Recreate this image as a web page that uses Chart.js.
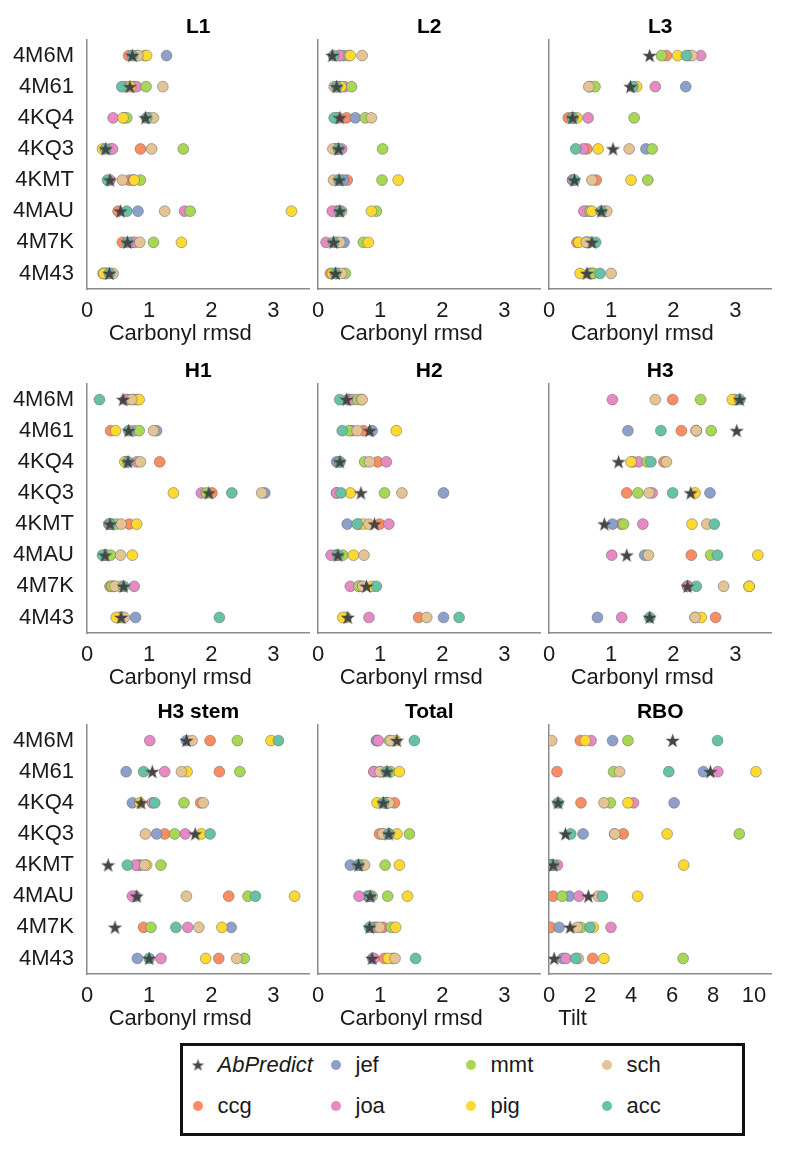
<!DOCTYPE html>
<html>
<head>
<meta charset="utf-8">
<script src="https://cdn.jsdelivr.net/npm/chart.js@4.4.1/dist/chart.umd.min.js"></script>
<style>
  body { margin: 0; background: #fff; width: 800px; height: 1152px; position: relative;
         font-family: "Liberation Sans", Arial, sans-serif; }
  canvas.panel { position: absolute; }
  #legend { position: absolute; left: 180px; top: 1043px; width: 565px; height: 93px;
            border: 3.5px solid #111; box-sizing: border-box; }
  #legend .mark { position: absolute; }
  #legend .txt { position: absolute; font-size: 22px; line-height: 26px; color: #1a1a1a; }
</style>
</head>
<body>
<div id="legend"></div>
<script>
// categories (structures) top to bottom
const categories = ['4M6M', '4M61', '4KQ4', '4KQ3', '4KMT', '4MAU', '4M7K', '4M43'];

// values per panel, one array per method (same order as categories)
const L1 = {
  AbPredict: [0.73, 0.69, 0.94, 0.30, 0.37, 0.54, 0.65, 0.36],
  ccg: [0.67, 0.62, 1.00, 0.86, 0.68, 0.50, 0.57, 0.26],
  jef: [1.28, 0.75, 0.60, 0.38, 0.75, 0.82, 0.72, 0.29],
  joa: [0.80, 0.80, 0.42, 0.41, 0.37, 1.57, 0.77, 0.31],
  mmt: [0.93, 0.95, 0.64, 1.55, 0.86, 1.66, 1.07, 0.33],
  pig: [0.96, 0.70, 0.58, 0.25, 0.76, 3.29, 1.52, 0.27],
  sch: [0.82, 1.22, 1.07, 1.04, 0.57, 1.25, 0.85, 0.42],
  acc: [0.73, 0.56, 0.96, 0.30, 0.33, 0.64, 0.65, 0.36]
};
const L2 = {
  AbPredict: [0.23, 0.30, 0.35, 0.33, 0.34, 0.35, 0.25, 0.28],
  ccg: [0.35, 0.30, 0.46, 0.30, 0.47, 0.30, 0.30, 0.20],
  jef: [0.42, 0.35, 0.60, 0.30, 0.41, 0.33, 0.42, 0.30],
  joa: [0.35, 0.43, 0.33, 0.38, 0.33, 0.23, 0.13, 0.30],
  mmt: [0.50, 0.54, 0.76, 1.04, 1.03, 0.94, 0.73, 0.44],
  pig: [0.52, 0.37, 0.30, 0.30, 1.29, 0.86, 0.81, 0.23],
  sch: [0.71, 0.26, 0.86, 0.24, 0.25, 0.38, 0.35, 0.38],
  acc: [0.25, 0.30, 0.26, 0.33, 0.34, 0.35, 0.25, 0.28]
};
const L3 = {
  AbPredict: [1.62, 1.31, 0.38, 1.03, 0.41, 0.84, 0.69, 0.61],
  ccg: [1.89, 0.66, 0.31, 0.61, 0.76, 0.90, 0.45, 0.65],
  jef: [2.25, 2.20, 0.38, 1.56, 0.38, 0.60, 0.60, 0.68],
  joa: [2.44, 1.71, 0.63, 0.55, 0.38, 0.56, 0.62, 0.71],
  mmt: [1.81, 0.74, 1.37, 1.66, 1.59, 0.66, 0.65, 0.70],
  pig: [2.07, 1.41, 0.45, 0.79, 1.32, 0.69, 0.48, 0.50],
  sch: [2.30, 0.64, 0.38, 1.29, 0.69, 0.93, 0.60, 1.00],
  acc: [2.21, 1.35, 0.38, 0.43, 0.41, 0.84, 0.75, 0.82]
};
const H1 = {
  AbPredict: [0.58, 0.67, 0.66, 1.96, 0.37, 0.29, 0.59, 0.55],
  ccg: [0.62, 0.38, 1.17, 2.01, 0.68, 0.30, 0.37, 0.52],
  jef: [0.75, 1.12, 0.62, 2.86, 0.40, 0.30, 0.42, 0.78],
  joa: [0.66, 0.76, 0.80, 1.84, 0.35, 0.30, 0.76, 0.58],
  mmt: [0.80, 0.84, 0.64, 1.92, 0.47, 0.38, 0.40, 0.55],
  pig: [0.84, 0.46, 0.61, 1.39, 0.80, 0.73, 0.54, 0.47],
  sch: [0.72, 1.07, 0.86, 2.81, 0.55, 0.54, 0.45, 0.60],
  acc: [0.20, 0.67, 0.66, 2.33, 0.37, 0.25, 0.59, 2.13]
};
const H2 = {
  AbPredict: [0.46, 0.83, 0.35, 0.69, 0.91, 0.32, 0.78, 0.48],
  ccg: [0.48, 0.73, 0.96, 0.30, 0.99, 0.30, 0.70, 1.62],
  jef: [0.50, 0.87, 0.30, 2.02, 0.47, 0.30, 0.66, 2.02],
  joa: [0.56, 0.55, 1.10, 0.30, 1.14, 0.21, 0.52, 0.82],
  mmt: [0.64, 0.50, 0.75, 1.07, 0.66, 0.40, 0.66, 0.45],
  pig: [0.70, 1.26, 0.35, 0.52, 0.73, 0.57, 0.87, 0.40],
  sch: [0.71, 0.63, 0.83, 1.35, 0.82, 0.74, 0.72, 1.75],
  acc: [0.35, 0.39, 0.35, 0.37, 0.63, 0.32, 0.94, 2.27]
};
const H3 = {
  AbPredict: [3.07, 3.02, 1.12, 2.28, 0.89, 1.25, 2.23, 1.62],
  ccg: [1.99, 2.13, 1.85, 1.25, 1.16, 2.29, 2.23, 2.68],
  jef: [3.00, 1.27, 1.35, 2.59, 1.02, 1.54, 2.23, 0.78],
  joa: [1.02, 2.37, 1.44, 1.66, 1.51, 1.01, 2.23, 1.17],
  mmt: [2.44, 2.61, 1.58, 1.43, 1.20, 2.60, 3.22, 2.35],
  pig: [2.95, 2.37, 1.32, 2.35, 2.30, 3.36, 3.22, 2.45],
  sch: [1.71, 2.37, 1.89, 1.61, 2.54, 1.60, 2.81, 2.35],
  acc: [3.07, 1.80, 1.64, 1.99, 2.66, 2.71, 2.37, 1.62]
};
const H3stem = {
  AbPredict: [1.60, 1.05, 0.87, 1.74, 0.34, 0.80, 0.45, 1.00],
  ccg: [1.98, 2.13, 1.83, 1.25, 0.82, 2.28, 0.91, 2.12],
  jef: [1.60, 0.63, 0.73, 1.12, 0.87, 0.78, 2.32, 0.81],
  joa: [1.01, 1.25, 1.05, 1.58, 0.78, 0.73, 1.62, 1.19],
  mmt: [2.42, 2.46, 1.56, 1.41, 1.19, 2.59, 1.03, 2.53],
  pig: [2.96, 1.61, 0.85, 1.84, 0.96, 3.34, 2.17, 1.91],
  sch: [1.69, 1.52, 1.87, 0.94, 0.93, 1.60, 1.80, 2.41],
  acc: [3.08, 0.91, 1.09, 1.98, 0.65, 2.71, 1.43, 1.00]
};
const Total = {
  AbPredict: [1.27, 1.11, 1.05, 1.14, 0.65, 0.84, 0.83, 0.87],
  ccg: [0.94, 0.90, 1.23, 0.99, 0.65, 0.80, 1.05, 1.07],
  jef: [0.95, 1.00, 1.10, 1.14, 0.52, 0.80, 0.90, 0.88],
  joa: [0.97, 0.90, 1.10, 1.05, 0.70, 0.66, 0.94, 0.90],
  mmt: [1.15, 1.17, 1.10, 1.47, 1.08, 1.12, 1.18, 1.20],
  pig: [1.25, 1.31, 0.95, 1.27, 1.31, 1.44, 1.25, 1.13],
  sch: [1.17, 1.00, 1.14, 1.04, 0.75, 0.87, 0.99, 1.24],
  acc: [1.55, 1.11, 1.05, 1.14, 0.65, 0.84, 0.83, 1.57]
};
const RBO = {
  AbPredict: [6.03, 7.87, 0.44, 0.80, 0.20, 1.92, 1.03, 0.25],
  ccg: [1.53, 0.39, 1.56, 3.62, 0.05, 0.20, 0.08, 2.13],
  jef: [3.10, 7.53, 6.10, 1.66, 0.10, 0.99, 0.49, 0.67],
  joa: [2.05, 8.23, 4.12, 3.20, 0.41, 1.46, 3.02, 0.83],
  mmt: [3.85, 3.15, 2.99, 9.28, 0.10, 0.64, 1.56, 6.54],
  pig: [1.77, 10.09, 3.85, 5.76, 6.57, 4.32, 2.16, 2.68],
  sch: [0.13, 3.44, 2.68, 3.21, 0.15, 2.39, 1.38, 1.42],
  acc: [8.22, 5.84, 0.44, 1.06, 0.20, 2.60, 2.00, 1.30]
};

// method order (drawing order bottom -> top), star drawn last
const methods = ['ccg', 'jef', 'joa', 'mmt', 'pig', 'sch', 'acc'];
const colors = {
  ccg: '#fc8d62', jef: '#8da0cb', joa: '#e78ac3', mmt: '#a6d854',
  pig: '#ffd92f', sch: '#e5c494', acc: '#66c2a5'
};
const STAR_COLOR = '#454545';
const AXIS_COLOR = '#8a8a8a';
const TEXT_COLOR = '#1a1a1a';
const FONT = '"Liberation Sans", Arial, sans-serif';

// layout (px)
const COL_LEFT = [87, 318, 549];
const COL_RIGHT = [318, 549, 780];
const ROW_TOP = [40, 384, 725];
const PLOT_H = 249, TITLE_H = 26, AXIS_H = 62, PAD_L = 20;

const panels = [
  {title: 'L1', values: L1, row: 0, col: 0},
  {title: 'L2', values: L2, row: 0, col: 1},
  {title: 'L3', values: L3, row: 0, col: 2},
  {title: 'H1', values: H1, row: 1, col: 0},
  {title: 'H2', values: H2, row: 1, col: 1},
  {title: 'H3', values: H3, row: 1, col: 2},
  {title: 'H3 stem', values: H3stem, row: 2, col: 0},
  {title: 'Total', values: Total, row: 2, col: 1},
  {title: 'RBO', values: RBO, row: 2, col: 2, xMax: 10.85, step: 2, xLabel: 'Tilt', labelAt: 1.15},
];

Chart.defaults.font.family = FONT;
Chart.defaults.color = TEXT_COLOR;

// filled five-point star used as marker
function starMarker(r) {
  const c = document.createElement('canvas');
  const s = Math.ceil(2 * r + 2);
  c.width = s; c.height = s;
  const ctx = c.getContext('2d');
  ctx.beginPath();
  for (let i = 0; i < 10; i++) {
    const rad = i % 2 === 0 ? r : r * 0.4;
    const a = -Math.PI / 2 + i * Math.PI / 5;
    const px = s / 2 + rad * Math.cos(a), py = s / 2 + r * 0.08 + rad * Math.sin(a);
    i === 0 ? ctx.moveTo(px, py) : ctx.lineTo(px, py);
  }
  ctx.closePath();
  ctx.fillStyle = STAR_COLOR;
  ctx.fill();
  return c;
}
const star = starMarker(7.5);

// axis label drawn below the x axis, centred on a data value
const xLabelPlugin = {
  id: 'xLabel',
  afterDraw(chart, args, opts) {
    const {ctx, chartArea, scales} = chart;
    ctx.save();
    ctx.font = '22px ' + FONT;
    ctx.fillStyle = TEXT_COLOR;
    ctx.textAlign = 'center';
    ctx.textBaseline = 'alphabetic';
    ctx.fillText(opts.text, scales.x.getPixelForValue(opts.at), chartArea.bottom + 50.5);
    ctx.restore();
  }
};

panels.forEach(p => {
  const canvas = document.createElement('canvas');
  canvas.className = 'panel';
  const left = p.col === 0 ? 0 : COL_LEFT[p.col] - PAD_L;
  canvas.width = COL_RIGHT[p.col] - left;
  canvas.height = TITLE_H + PLOT_H + AXIS_H;
  canvas.style.left = left + 'px';
  canvas.style.top = (ROW_TOP[p.row] - TITLE_H) + 'px';
  document.body.appendChild(canvas);

  const toPoints = arr => arr.map((v, i) => ({x: v, y: categories[i]}));
  const datasets = [{
    label: 'AbPredict',
    data: toPoints(p.values.AbPredict),
    pointStyle: star,
    pointRadius: 7.5,
    clip: 0
  }];
  methods.slice().reverse().forEach(m => {
    datasets.push({
      label: m,
      data: toPoints(p.values[m]),
      pointStyle: 'circle',
      pointRadius: 5.4,
      pointBackgroundColor: colors[m],
      pointBorderColor: 'rgba(110,110,110,0.7)',
      pointBorderWidth: 0.8,
      clip: 0
    });
  });

  new Chart(canvas, {
    type: 'scatter',
    data: {datasets},
    plugins: [xLabelPlugin],
    options: {
      responsive: false,
      animation: false,
      devicePixelRatio: 1,
      events: [],
      layout: {padding: {left: p.col === 0 ? 0 : PAD_L, right: 0, top: 0, bottom: 0}},
      scales: {
        x: {
          type: 'linear',
          min: 0,
          max: p.xMax || 3.58,
          grid: {display: false},
          border: {display: true, color: AXIS_COLOR, width: 1.5},
          ticks: {stepSize: p.step || 1, includeBounds: false, maxRotation: 0,
                  font: {size: 22}, color: TEXT_COLOR, padding: 1},
          afterFit: s => { s.height = AXIS_H; }
        },
        y: {
          type: 'category',
          labels: categories,
          offset: true,
          grid: {display: false},
          border: {display: true, color: AXIS_COLOR, width: 1.5},
          ticks: {display: p.col === 0, font: {size: 22}, color: TEXT_COLOR, padding: 5},
          afterFit: s => { s.width = p.col === 0 ? COL_LEFT[0] : 0; }
        }
      },
      plugins: {
        legend: {display: false},
        tooltip: {enabled: false},
        title: {
          display: true, text: p.title, fullSize: false, padding: 0, color: '#000',
          font: {size: 21, weight: 'bold', lineHeight: '26px'}
        },
        xLabel: {text: p.xLabel || 'Carbonyl rmsd', at: p.labelAt === undefined ? 1.5 : p.labelAt}
      }
    }
  });
});

// legend box (4 columns, filled column by column)
const legendItems = [['AbPredict', null], ['ccg', colors.ccg], ['jef', colors.jef], ['joa', colors.joa],
                     ['mmt', colors.mmt], ['pig', colors.pig], ['sch', colors.sch], ['acc', colors.acc]];
const legendCols = [18, 156, 291, 427];
const legendRows = [22, 63];
const legend = document.getElementById('legend');
legendItems.forEach(([name, color], i) => {
  const cx = legendCols[Math.floor(i / 2)], cy = legendRows[i % 2];
  const mark = document.createElement('canvas');
  mark.className = 'mark';
  mark.width = 18; mark.height = 18;
  mark.style.left = (cx - 9 - 3.5) + 'px';
  mark.style.top = (cy - 9 - 3.5) + 'px';
  const mctx = mark.getContext('2d');
  if (color) {
    mctx.beginPath();
    mctx.arc(9, 9, 5, 0, Math.PI * 2);
    mctx.fillStyle = color;
    mctx.fill();
  } else {
    mctx.drawImage(starMarker(6.5), 9 - 7.5, 9 - 7.5);
  }
  legend.appendChild(mark);
  const txt = document.createElement('div');
  txt.className = 'txt';
  txt.textContent = name;
  if (!color) txt.style.fontStyle = 'italic';
  txt.style.left = (cx + 20 - 3.5) + 'px';
  txt.style.top = (cy - 13 - 3.5) + 'px';
  legend.appendChild(txt);
});
</script>
</body>
</html>
